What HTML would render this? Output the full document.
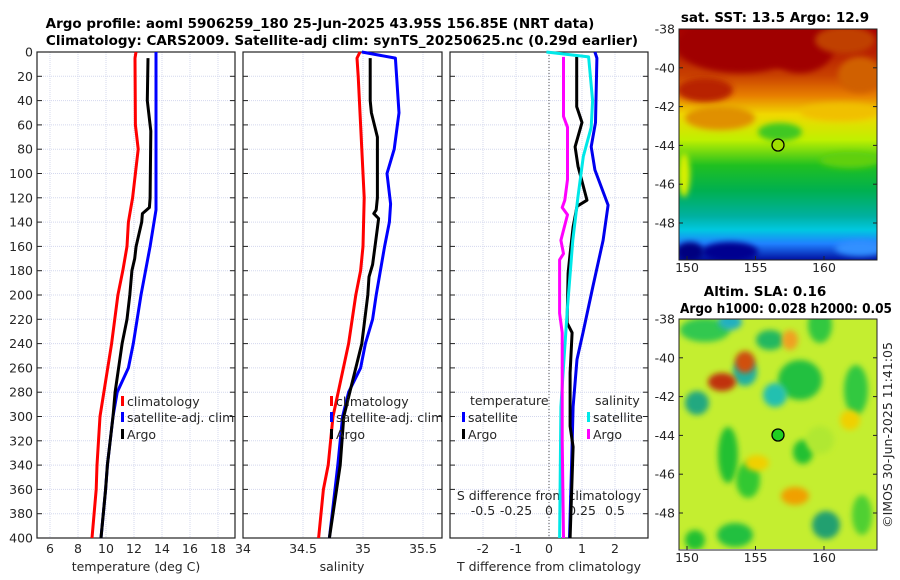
<!DOCTYPE html>
<html><head><meta charset="utf-8">
<style>
body{margin:0;background:#fff;}
svg{display:block;font-family:"DejaVu Sans","Liberation Sans",sans-serif;}
.t{font-size:12.5px;fill:#262626;}
.b{font-size:13.5px;font-weight:bold;fill:#000;}
</style></head>
<body>
<svg id="c" width="900" height="580" viewBox="0 0 900 580" xmlns="http://www.w3.org/2000/svg">
<defs>
<filter id="bl2" x="-50%" y="-50%" width="200%" height="200%"><feGaussianBlur stdDeviation="3"/></filter>
<clipPath id="cm1"><rect x="679" y="29" width="198" height="231"/></clipPath>
<clipPath id="cm2"><rect x="679" y="319" width="198" height="230"/></clipPath>
<linearGradient id="sst" x1="0" y1="0" x2="0" y2="1">
<stop offset="0" stop-color="#a80000"/><stop offset="0.2" stop-color="#c84000"/>
<stop offset="0.29" stop-color="#e88000"/><stop offset="0.37" stop-color="#f0d800"/>
<stop offset="0.48" stop-color="#c0f000"/><stop offset="0.59" stop-color="#20c020"/>
<stop offset="0.7" stop-color="#00b050"/><stop offset="0.81" stop-color="#00b0a0"/>
<stop offset="0.87" stop-color="#00c8e0"/><stop offset="0.93" stop-color="#2080ff"/>
<stop offset="1" stop-color="#0010a0"/>
</linearGradient>
</defs>
<g id="plots"></g>
<g id="maps"></g>
</svg>
<script>
// ---------- DATA ----------
const depthTicks = [0,20,40,60,80,100,120,140,160,180,200,220,240,260,280,300,320,340,360,380,400];
const tempTicks = [6,8,10,12,14,16,18];
const salTicks = [34,34.5,35,35.5];
const salTickLabels = ["34","34.5","35","35.5"];
const tdiffTicks = [-2,-1,0,1,2];
const sdiffTicks = [-0.5,-0.25,0,0.25,0.5];
const sdiffTickLabels = ["-0.5","-0.25","0","0.25","0.5"];

const climTDepth = [0,5,60,80,100,120,140,160,180,200,240,300,340,360,400];
const climT      = [12.14,12.07,12.1,12.3,12.1,11.9,11.6,11.5,11.2,10.85,10.4,9.57,9.36,9.3,9.0];
const satTDepth  = [0,130,160,200,240,260,280,300,340,360,400];
const satT       = [13.57,13.57,13.15,12.5,11.95,11.6,10.8,10.5,10.1,9.97,9.64];
const argoTDepth = [5,40,65,120,128,133,140,160,170,175,180,200,220,240,280,300,340,360,400];
const argoT      = [13.0,12.95,13.2,13.15,13.1,12.6,12.55,12.15,12.05,11.95,11.85,11.7,11.5,11.15,10.65,10.5,10.1,9.97,9.64];

const climSDepth = [0,5,20,120,160,180,200,240,300,340,360,400];
const climS      = [34.975,34.95,34.96,35.01,35.0,34.98,34.94,34.88,34.75,34.71,34.67,34.63];
const satSDepth  = [0,5,50,80,100,125,140,160,200,220,240,260,280,300,340,400];
const satS       = [34.99,35.27,35.3,35.26,35.2,35.23,35.22,35.18,35.11,35.08,35.02,34.98,34.88,34.83,34.79,34.72];
const argoSDepth = [5,40,50,70,120,130,133,137,145,160,175,185,200,240,300,340,400];
const argoS      = [35.06,35.06,35.07,35.12,35.12,35.11,35.09,35.13,35.12,35.1,35.08,35.05,35.04,34.99,34.84,34.81,34.72];

const satTdDepth = [0,5,58,78,97,126,155,193,231,253,292,333,400];
const satTd      = [1.39,1.45,1.41,1.28,1.39,1.79,1.64,1.33,1.03,0.85,0.73,0.69,0.62];
const argoTdDepth= [4,45,58,78,94,122,127,144,166,182,223,231,264,308,325,400];
const argoTd     = [0.84,0.84,1.0,0.79,0.88,1.15,0.85,0.73,0.64,0.58,0.55,0.7,0.64,0.64,0.73,0.64];
const satSdDepth = [0,4,40,62,86,119,155,210,259,292,400];
const satSd      = [-0.02,0.30,0.33,0.32,0.26,0.22,0.18,0.14,0.11,0.09,0.08];
const argoSdDepth= [4,53,62,105,122,128,134,155,166,171,215,231,319,400];
const argoSd     = [0.11,0.11,0.14,0.14,0.12,0.10,0.14,0.09,0.11,0.08,0.08,0.10,0.10,0.11];

// ---------- AXES ----------
const Y0=52, Y1=538;
const yD = d => Y0 + d*(Y1-Y0)/400;
const xT = t => 50 + (t-6)*14;
const xS = s => 243 + (s-34)*120;
const xTd = v => 549 + v*33;
const xSd = s => 549 + s*132;

const NS="http://www.w3.org/2000/svg";
const G=document.getElementById('plots');
function mk(tag,attrs,parent){const e=document.createElementNS(NS,tag);for(const k in attrs)e.setAttribute(k,attrs[k]);(parent||G).appendChild(e);return e;}
function txt(x,y,s,cls,anchor,parent){const e=mk('text',{x:x,y:y,class:cls,'text-anchor':anchor||'middle'},parent);e.textContent=s;return e;}

const panels=[{x0:37,x1:235,name:'temperature-panel'},{x0:243,x1:442,name:'salinity-panel'},{x0:450,x1:648,name:'difference-panel'}];
panels.forEach((p,i)=>{
  const g=mk('g',{});
  
  
  depthTicks.forEach(d=>{ if(d>0&&d<400) mk('line',{x1:p.x0,x2:p.x1,y1:yD(d),y2:yD(d),stroke:'#d4d8ee','stroke-width':1,'stroke-dasharray':'1,1'},g);
    mk('line',{x1:p.x0,x2:p.x0+5,y1:yD(d),y2:yD(d),stroke:'#222'},g);
    mk('line',{x1:p.x1-5,x2:p.x1,y1:yD(d),y2:yD(d),stroke:'#222'},g);
    if(i===0){const t=txt(p.x0-4,yD(d)+4.5,String(d),'t','end',g);}
  });
  let vt = i===0?tempTicks.map(xT): i===1?salTicks.map(xS):tdiffTicks.map(xTd);
  vt.forEach(x=>{ if(x>p.x0+1&&x<p.x1-1) mk('line',{x1:x,x2:x,y1:Y0,y2:Y1,stroke:'#d4d8ee','stroke-dasharray':'1,1'},g);});
  mk('rect',{x:p.x0,y:Y0,width:p.x1-p.x0,height:Y1-Y0,fill:'none',stroke:'#222','stroke-width':1.2},g);
});
tempTicks.forEach(t=>{const e=txt(xT(t),553,String(t),'t');});
salTicks.forEach((s,i)=>{const e=txt(xS(s),553,salTickLabels[i],'t');});
tdiffTicks.forEach(t=>{const e=txt(xTd(t),553,String(t),'t');});
sdiffTicks.forEach((s,i)=>{const e=txt(xSd(s),515,sdiffTickLabels[i],'t');});
let e;
e=txt(136,571,'temperature (deg C)','t');
e=txt(342,571,'salinity','t');
e=txt(549,571,'T difference from climatology','t');
e=txt(549,500,'S difference from climatology','t');
e=mk('line',{x1:xTd(0),x2:xTd(0),y1:Y0,y2:Y1,stroke:'#555','stroke-dasharray':'1,2'});


function series(ds,vs,fx,color,name){
  const pts=ds.map((d,i)=>fx(vs[i]).toFixed(1)+','+yD(d).toFixed(1)).join(' ');
  const l=mk('polyline',{points:pts,fill:'none',stroke:color,'stroke-width':3,'stroke-linejoin':'round'});
  
  
}
series(climTDepth,climT,xT,'#ff0000','clim-temperature-line');
series(satTDepth,satT,xT,'#0000ff','sat-temperature-line');
series(argoTDepth,argoT,xT,'#000','argo-temperature-line');
series(climSDepth,climS,xS,'#ff0000','clim-salinity-line');
series(satSDepth,satS,xS,'#0000ff','sat-salinity-line');
series(argoSDepth,argoS,xS,'#000','argo-salinity-line');
series(satTdDepth,satTd,xTd,'#0000ee','sat-tdiff-line');
series(argoTdDepth,argoTd,xTd,'#000','argo-tdiff-line');
series(satSdDepth,satSd,xSd,'#00e8e8','sat-sdiff-line');
series(argoSdDepth,argoSd,xSd,'#ff00ff','argo-sdiff-line');

function leg(x,y,color,label,name){
  const g=mk('g',{});
  
  
  mk('rect',{x:x,y:y-10,width:3,height:10,fill:color},g);
  txt(x+6,y,label,'t','start',g);
}
leg(121,406,'#ff0000','climatology','legend-entry-climatology');
leg(121,422,'#0000ff','satellite-adj. clim','legend-entry-satellite-adj');
leg(121,439,'#000','Argo','legend-entry-argo');
leg(330,406,'#ff0000','climatology','legend-entry-climatology-sal');
leg(330,422,'#0000ff','satellite-adj. clim','legend-entry-satellite-adj-sal');
leg(330,439,'#000','Argo','legend-entry-argo-sal');
e=txt(470,405,'temperature','t','start');
leg(462,422,'#0000ff','satellite','legend-entry-tdiff-satellite');
leg(462,439,'#000','Argo','legend-entry-tdiff-argo');
e=txt(595,405,'salinity','t','start');
leg(587,422,'#00e8e8','satellite','legend-entry-sdiff-satellite');
leg(587,439,'#ff00ff','Argo','legend-entry-sdiff-argo');

e=txt(320,28,'Argo profile: aoml 5906259_180 25-Jun-2025 43.95S 156.85E (NRT data)','b');
e=txt(342,45,'Climatology: CARS2009. Satellite-adj clim: synTS_20250625.nc (0.29d earlier)','b');

// ---------- MAPS ----------
const M=document.getElementById('maps');
const lonTicks=[150,155,160];
const latTicks=[-38,-40,-42,-44,-46,-48];
const xLon = lo => 687 + (lo-150)*13.7;
function mapFrame(top,latY,name){
  const g=mk('g',{},M);
  
  
  mk('rect',{x:679,y:top,width:198,height:231,fill:'none',stroke:'#222'},g);
  latTicks.forEach(la=>{const y=latY(la);mk('line',{x1:679,x2:683,y1:y,y2:y,stroke:'#222'},g);mk('line',{x1:873,x2:877,y1:y,y2:y,stroke:'#222'},g);txt(675,y+4.5,String(la),'t','end',g);});
  lonTicks.forEach(lo=>{const x=xLon(lo);mk('line',{x1:x,x2:x,y1:top+227,y2:top+231,stroke:'#222'},g);txt(x,top+243,String(lo),'t','middle',g);});
  return g;
}
const g1=mk('g',{'clip-path':'url(#cm1)'},M);


mk('rect',{x:679,y:29,width:198,height:231,fill:'url(#sst)'},g1);
const sstBlobs=[[740,45,65,28,'#a00000'],[800,45,35,28,'#a00000'],[845,40,30,14,'#c04000'],[705,90,28,12,'#b82000'],[860,75,22,18,'#d06000'],[720,118,35,12,'#e09000'],[840,112,40,9,'#f0c000'],[684,175,6,22,'#d8f000'],[780,132,22,9,'#40c820'],[850,160,30,8,'#60d010'],[730,252,28,10,'#000090'],[690,252,14,10,'#000080'],[860,248,25,8,'#3090ff']];
sstBlobs.forEach(b=>{mk('ellipse',{cx:b[0],cy:b[1],rx:b[2],ry:b[3],fill:b[4],filter:'url(#bl2)'},g1);});
mapFrame(29,la=>29+(-38-la)*19.4,'sst-map-axes');
e=mk('circle',{cx:778,cy:145,r:6,fill:'#a0e000',stroke:'#000','stroke-width':1.3},M);

e=txt(775,22,'sat. SST: 13.5 Argo: 12.9','b');

const g2=mk('g',{'clip-path':'url(#cm2)'},M);


mk('rect',{x:679,y:319,width:198,height:230,fill:'#c4ee30'},g2);
const slaBlobs=[[705,330,25,12,'#30c850'],[730,322,12,8,'#20b0c0'],[800,380,22,20,'#20c040'],[770,340,14,10,'#20b860'],[820,325,12,18,'#30c840'],[745,372,12,14,'#20b0a0'],[775,395,12,12,'#20c0b0'],[697,403,12,12,'#20a880'],[728,455,10,28,'#20c030'],[748,480,12,18,'#30c830'],[803,452,10,12,'#20c030'],[826,525,14,14,'#20a070'],[735,535,18,12,'#20c040'],[856,390,12,25,'#30c840'],[695,540,10,10,'#20c030'],[862,515,10,20,'#50d030'],
[722,382,14,9,'#c03010'],[745,362,10,11,'#d05010'],[795,496,14,9,'#f0a000'],[790,340,8,10,'#f0a020'],[757,463,12,8,'#f0d000'],[850,420,10,10,'#f0d000'],[820,440,14,14,'#b0e830']];
slaBlobs.forEach(b=>{mk('ellipse',{cx:b[0],cy:b[1],rx:b[2],ry:b[3],fill:b[4],filter:'url(#bl2)'},g2);});
mapFrame(319,la=>319+(-38-la)*19.4,'sla-map-axes');
e=mk('circle',{cx:778,cy:435,r:6,fill:'#20d020',stroke:'#000','stroke-width':1.3},M);

e=txt(765,296,'Altim. SLA: 0.16','b');
e=txt(786,313,'Argo h1000: 0.028 h2000: 0.05','b');
e.setAttribute('textLength','212');
e.setAttribute('lengthAdjust','spacingAndGlyphs');

e=txt(0,0,'©IMOS 30-Jun-2025 11:41:05','t','middle',M);
e.setAttribute('transform','translate(892,435) rotate(-90)');

</script>
</body></html>
